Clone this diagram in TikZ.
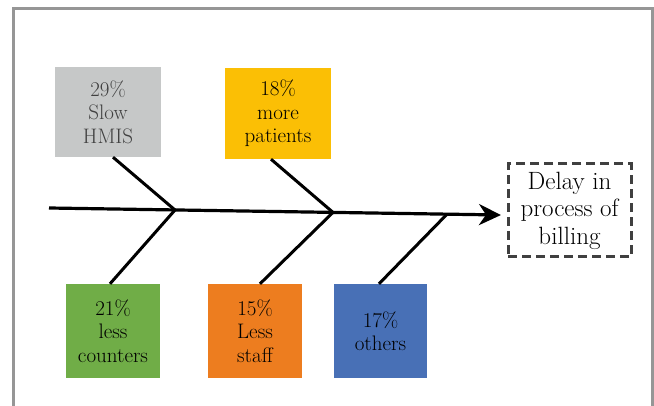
\documentclass[tikz,border=0pt]{standalone}
\usepackage{fontspec}
\definecolor{HmisGray}{RGB}{198,200,200}
\definecolor{PatYellow}{RGB}{251,191,5}
\definecolor{CntGreen}{RGB}{112,173,71}
\definecolor{StaffOrange}{RGB}{237,125,31}
\definecolor{OtherBlue}{RGB}{72,112,182}
\definecolor{FrameGray}{RGB}{150,150,150}
\usetikzlibrary{arrows.meta,calc}

\begin{document}
\begin{tikzpicture}[
    x=1pt, y=-1pt,
    every node/.style={font=\fontsize{21}{23.5}\selectfont},
    cause/.style={rectangle, inner sep=0pt, align=center, minimum width=94pt, minimum height=94pt},
    bone/.style={line width=3pt, black},
    spine/.style={line width=3.2pt, black, -{Stealth[length=22pt,width=21pt,inset=7pt]}}
  ]
    \useasboundingbox (0,0) rectangle (654,406);
    \draw[FrameGray, line width=3pt] (13.5,406) -- (13.5,8.5) -- (652.5,8.5) -- (652.5,406);

    \node[cause, fill=HmisGray, text=black!75, minimum width=106pt, minimum height=90pt] (slow) at (108,112) {29\%\\Slow\\HMIS};
    \node[cause, fill=PatYellow, minimum width=106pt, minimum height=91pt] (patients) at (278,113.5) {18\%\\more\\patients};
    \node[cause, fill=CntGreen] (counters) at (113,331) {21\%\\less\\counters};
    \node[cause, fill=StaffOrange] (staff) at (255,331) {15\%\\Less\\staff};
    \node[cause, fill=OtherBlue, minimum width=93pt] (others) at (380.5,331) {17\%\\others};
    \node[rectangle, draw=black!75, line width=3pt, dash pattern=on 9pt off 5pt, minimum width=123pt, minimum height=93pt, align=center, font=\fontsize{25}{27.5}\selectfont] (delay) at (569.5,210.5) {Delay in\\process of\\billing};

    % spine
    \coordinate (tail) at (49,208);
    \coordinate (tip) at (501,215);
    \coordinate (j1) at (175,210);
    \coordinate (j2) at (333,212.4);
    \coordinate (j3) at (447,214.2);
    \draw[spine] (tail) -- (tip);

    % bones
    \draw[bone] ([xshift=5pt]slow.south) -- (j1);
    \draw[bone] (j1) -- ([xshift=-3pt]counters.north);
    \draw[bone] ([xshift=-7pt]patients.south) -- (j2);
    \draw[bone] (j2) -- ([xshift=5pt]staff.north);
    \draw[bone] (j3) -- ([xshift=-1.5pt]others.north);
  \end{tikzpicture}
\end{document}
